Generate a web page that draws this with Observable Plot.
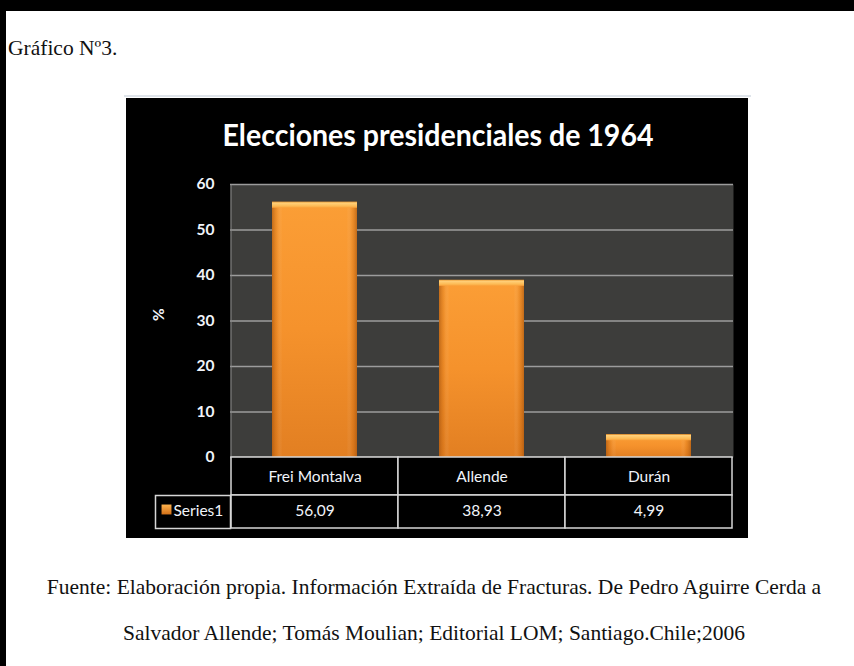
<!DOCTYPE html>
<html><head><meta charset="utf-8">
<script src="https://cdn.jsdelivr.net/npm/d3@7"></script>
<script src="https://cdn.jsdelivr.net/npm/@observablehq/plot@0.6"></script>
<style>
html,body{margin:0;padding:0;background:#fff;}
#page{position:relative;width:854px;height:666px;overflow:hidden;background:#fff;}
#topbar{position:absolute;left:0;top:0;width:854px;height:11px;background:#000;}
#leftbar{position:absolute;left:0;top:0;width:6px;height:666px;background:#000;}
#sheetline{position:absolute;left:124px;top:95px;width:627px;height:2px;background:#dfe4ea;}
#heading{position:absolute;left:8px;top:35px;font-family:"Liberation Serif",serif;font-size:21.5px;line-height:26px;color:#111;white-space:nowrap;}
#chart{position:absolute;left:126px;top:98px;line-height:0;}
#caption{position:absolute;left:14px;width:840px;top:564px;text-align:center;font-family:"Liberation Serif",serif;font-size:21.5px;line-height:46px;color:#111;white-space:nowrap;}
</style></head>
<body>
<div id="page">
  <div id="topbar"></div>
  <div id="leftbar"></div>
  <div id="heading">Gráfico Nº3.</div>
  <div id="sheetline"></div>
  <div id="chart"></div>
  <div id="caption">Fuente: Elaboración propia. Información Extraída de Fracturas. De Pedro Aguirre Cerda a<br>Salvador Allende; Tomás Moulian; Editorial LOM; Santiago.Chile;2006</div>
</div>
<script>
const candidates = ["Frei Montalva", "Allende", "Durán"];
const percents = [56.09, 38.93, 4.99];
const percentLabels = ["56,09", "38,93", "4,99"];
const yTicks = [0, 10, 20, 30, 40, 50, 60];
const titleText = "Elecciones presidenciales de 1964";
const seriesName = "Series1";
const yLabel = "%";

const data = candidates.map((name, i) => ({name, value: percents[i], label: percentLabels[i]}));
const textColor = "#f1f4fa";
const lineColor = "#d6d6d6";

const chart = Plot.plot({
  width: 622, height: 440,
  marginLeft: 104, marginRight: 15, marginTop: 86, marginBottom: 81,
  style: {background: "#000", color: textColor, fontFamily: "Lato, sans-serif", fontSize: "15.5px", overflow: "visible"},
  x: {domain: candidates, padding: 0, axis: null},
  y: {domain: [0, 60], axis: null},
  marks: [
    Plot.frame({fill: "#3d3d3b", stroke: null}),
    Plot.ruleY(yTicks, {stroke: "#9c9c9c", strokeOpacity: 1, strokeWidth: 1.5}),
    Plot.frame({insetRight: 502, fill: "#8a8a8a", stroke: null}),
    Plot.barY(data, {x: "name", y: "value", insetLeft: 41, insetRight: 41, fill: "url(#barGrad)"}),
    Plot.barY(data, {x: "name", y: "value", insetLeft: 41, insetRight: 41, fill: "url(#edgeGrad)"}),
    Plot.barY(data, {x: "name", y1: "value", y2: "value", insetLeft: 41, insetRight: 41, insetBottom: -6, fill: "url(#bevelGrad)"}),
    Plot.barY(data, {x: "name", y1: () => 0, y2: () => 0, insetBottom: -38, fill: "#000", stroke: lineColor, strokeWidth: 1.5}),
    Plot.barY(data, {x: "name", y1: () => 0, y2: () => 0, insetTop: 38, insetBottom: -71, fill: "#000", stroke: lineColor, strokeWidth: 1.5}),
    Plot.frame({insetLeft: -75, insetRight: 503, insetTop: 311, insetBottom: -71, fill: "#000", stroke: lineColor, strokeWidth: 1.5}),
    Plot.text(data, {x: "name", y: () => 0, text: "name", dy: 20, lineAnchor: "middle", fill: textColor}),
    Plot.text(data, {x: "name", y: () => 0, text: "label", dy: 54, lineAnchor: "middle", fill: textColor}),
    Plot.text(yTicks, {y: d => d, text: d => String(d), frameAnchor: "left", dx: -16, textAnchor: "end", lineAnchor: "middle", fontWeight: "bold", fill: textColor}),
    Plot.text([yLabel], {frameAnchor: "left", dx: -71, rotate: -90, lineAnchor: "middle", fontWeight: "bold", fill: textColor}),
    Plot.text([titleText], {frameAnchor: "top", dx: -44, dy: -48, lineAnchor: "middle", fontSize: 31, fontWeight: "bold", fill: "#fff"}),
    Plot.dot([seriesName], {frameAnchor: "bottom-left", dx: -64, dy: 52, symbol: "square", r: 5.6, fill: "url(#swatchGrad)", stroke: null}),
    Plot.text([seriesName], {frameAnchor: "bottom-left", dx: -57, dy: 54, textAnchor: "start", lineAnchor: "middle", fill: textColor})
  ]
});

const svg = d3.select(chart);
const defs = svg.insert("defs", ":first-child");
function grad(id, x2, y2, stops) {
  const g = defs.append("linearGradient").attr("id", id)
    .attr("x1", 0).attr("y1", 0).attr("x2", x2).attr("y2", y2);
  stops.forEach(([o, c, op]) => g.append("stop").attr("offset", o).attr("stop-color", c).attr("stop-opacity", op == null ? 1 : op));
}
grad("barGrad", 0, 1, [[0, "#fb9e36"], [0.5, "#f5922c"], [1, "#e27f22"]]);
grad("edgeGrad", 1, 0, [[0, "#9a4a08", 0.6], [0.06, "#c8680f", 0.2], [0.12, "#ffffff", 0], [0.88, "#ffffff", 0], [0.94, "#c8680f", 0.2], [1, "#9a4a08", 0.6]]);
grad("bevelGrad", 0, 1, [[0, "#e8962f"], [0.2, "#ffd07a"], [0.7, "#fdbb55"], [1, "#f9a03a"]]);
grad("swatchGrad", 0, 1, [[0, "#ffb34d"], [1, "#d26f17"]]);

svg.selectAll("text").filter(function() { return this.textContent === titleText; })
  .attr("textLength", 431).attr("lengthAdjust", "spacingAndGlyphs");

document.getElementById("chart").appendChild(chart);
</script>
</body></html>
